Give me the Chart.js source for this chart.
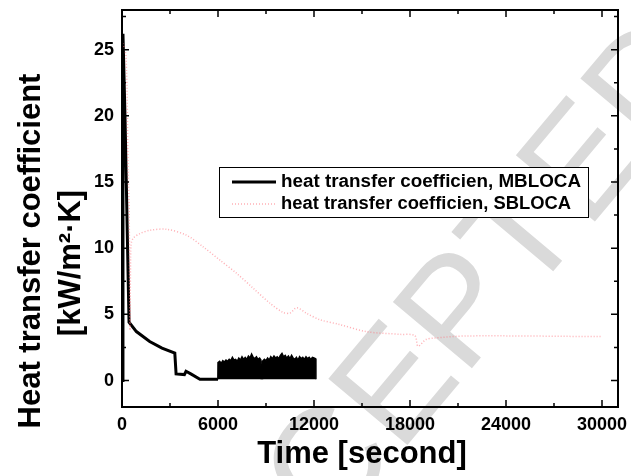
<!DOCTYPE html>
<html>
<head>
<meta charset="utf-8">
<script src="https://cdn.jsdelivr.net/npm/chart.js@4.4.0/dist/chart.umd.min.js"></script>
<style>
  html, body { margin: 0; padding: 0; background: #fff; }
  #wrap { width: 631px; height: 476px; }
</style>
</head>
<body>
<div id="wrap"><canvas id="htc" width="631" height="476"></canvas></div>
<script>
// tick labels
const xTicks = [0, 6000, 12000, 18000, 24000, 30000];
const xMinor = [3000, 9000, 15000, 21000, 27000];
const yTicks = [0, 5, 10, 15, 20, 25];
const yMinor = [2.5, 7.5, 12.5, 17.5, 22.5, 27.5];

// MBLOCA (solid black)
const mbTime = [0, 60, 190, 440, 900, 1730, 2500, 3300, 3380, 3900, 4000, 4300, 4870, 6000];
const mbValue = [0, 26.2, 19.8, 4.4, 3.7, 2.95, 2.45, 2.08, 0.5, 0.45, 0.7, 0.5, 0.1, 0.1];

// MBLOCA oscillating part 6000-12000 s: upper envelope, filled down to the baseline
const bandTime = [5990, 6000, 6100, 6200, 6300, 6400, 6500, 6600, 6700, 6800, 6900, 7000, 7100, 7200,
  7300, 7400, 7500, 7600, 7700, 7800, 7900, 8000, 8100, 8200, 8300, 8400, 8500, 8600, 8680, 8700,
  8760, 8780, 8900, 9000, 9100, 9200, 9300, 9400, 9500, 9600, 9700, 9800, 9900, 10000, 10100, 10200,
  10300, 10400, 10500, 10600, 10700, 10800, 10900, 11000, 11100, 11200, 11300, 11400, 11500, 11600,
  11700, 11800, 11900, 12000, 12100, 12120];
const bandValue = [0.1, 1.35, 1.45, 1.3, 1.5, 1.4, 1.55, 1.45, 1.6, 1.5, 1.75, 1.55, 1.6, 1.45,
  1.7, 1.55, 1.8, 1.6, 1.75, 1.6, 1.85, 1.7, 2.0, 1.75, 1.65, 1.8, 1.6, 1.7, 1.55, 0.15,
  0.15, 1.45, 1.6, 1.5, 1.7, 1.55, 1.8, 1.65, 1.85, 1.7, 1.8, 1.65, 1.9, 2.05, 1.8, 1.9,
  1.7, 1.85, 1.65, 1.9, 1.7, 1.6, 1.75, 1.55, 1.8, 1.65, 1.75, 1.6, 1.8, 1.65,
  1.75, 1.6, 1.75, 1.7, 1.65, 0.1];
const bandBase = 0.1;

// SBLOCA (pink dotted)
const sbTime = [0, 250, 380, 450, 500, 560, 689, 1108, 1734, 2780, 4032, 5072, 6118, 7163, 8203,
  9249, 10081, 10500, 10920, 11547, 12380, 13525, 15303, 17388, 18300, 18500, 19000, 19450, 21565, 29920];
const sbValue = [25.7, 24.5, 16, 12.5, 3.8, 10.2, 10.73, 11.1, 11.35, 11.43, 10.98, 10.1, 9.1, 8.1, 6.97,
  5.84, 5.14, 5.1, 5.5, 5.07, 4.59, 4.26, 3.69, 3.49, 3.4, 2.6, 3.1, 3.2, 3.37, 3.32];

const pts = (xs, ys) => xs.map((x, i) => ({ x: x, y: ys[i] }));

const FONT = "'Liberation Sans', Arial, sans-serif";
const PINK = "rgba(255,110,120,0.55)";

// text squeezed/stretched to a given width
function fitText(ctx, text, x, y, width, align) {
  const w = ctx.measureText(text).width;
  ctx.save();
  ctx.translate(x, y);
  ctx.scale(width / w, 1);
  ctx.textAlign = align || "left";
  ctx.fillText(text, 0, 0);
  ctx.restore();
}

// faint "ACCEPTED" watermark behind the plot
const watermarkPlugin = {
  id: "watermark",
  beforeDraw(chart) {
    const { ctx } = chart;
    ctx.save();
    ctx.translate(196, 697);
    ctx.rotate(-50 * Math.PI / 180);
    ctx.font = "150px " + FONT;
    ctx.fillStyle = "#dadada";
    ctx.textBaseline = "alphabetic";
    ctx.fillText("ACCEPTED", 0, 0);
    ctx.restore();
  }
};

// frame, inward ticks on all four sides, tick labels
const framePlugin = {
  id: "frame",
  afterDatasetsDraw(chart) {
    const { ctx, chartArea: a, scales } = chart;
    const x = scales.x, y = scales.y;
    ctx.save();
    ctx.strokeStyle = "#000";
    ctx.lineWidth = 1.5;
    const tickX = (vals, len) => {
      vals.forEach(v => {
        const px = x.getPixelForValue(v);
        ctx.beginPath();
        ctx.moveTo(px, a.bottom); ctx.lineTo(px, a.bottom - len);
        ctx.moveTo(px, a.top); ctx.lineTo(px, a.top + len);
        ctx.stroke();
      });
    };
    const tickY = (vals, len) => {
      vals.forEach(v => {
        const py = y.getPixelForValue(v);
        ctx.beginPath();
        ctx.moveTo(a.left, py); ctx.lineTo(a.left + len, py);
        ctx.moveTo(a.right, py); ctx.lineTo(a.right - len, py);
        ctx.stroke();
      });
    };
    tickX(xTicks, 7); tickX(xMinor, 4);
    tickY(yTicks, 7); tickY(yMinor, 4);
    ctx.lineWidth = 2;
    ctx.strokeRect(a.left, a.top, a.right - a.left, a.bottom - a.top);

    ctx.fillStyle = "#000";
    ctx.font = "bold 18px " + FONT;
    ctx.textBaseline = "middle";
    ctx.textAlign = "center";
    xTicks.forEach(v => ctx.fillText(String(v), x.getPixelForValue(v), 425));
    ctx.textAlign = "right";
    yTicks.forEach(v => ctx.fillText(String(v), 114, y.getPixelForValue(v)));
    ctx.restore();
  }
};

// legend box inside the plot
const legendPlugin = {
  id: "boxLegend",
  afterDraw(chart) {
    const { ctx } = chart;
    ctx.save();
    ctx.fillStyle = "#fff";
    ctx.fillRect(219, 167, 369, 50);
    ctx.strokeStyle = "#000";
    ctx.lineWidth = 1;
    ctx.strokeRect(219.5, 167.5, 369, 50);
    ctx.lineWidth = 3;
    ctx.beginPath(); ctx.moveTo(232, 182); ctx.lineTo(276, 182); ctx.stroke();
    ctx.strokeStyle = PINK;
    ctx.lineWidth = 1.5;
    ctx.setLineDash([1, 2]);
    ctx.beginPath(); ctx.moveTo(232, 204); ctx.lineTo(276, 204); ctx.stroke();
    ctx.setLineDash([]);
    ctx.fillStyle = "#000";
    ctx.font = "bold 17.5px " + FONT;
    ctx.textBaseline = "middle";
    fitText(ctx, "heat transfer coefficien, MBLOCA", 281, 182, 300);
    fitText(ctx, "heat transfer coefficien, SBLOCA", 281, 204, 290);
    ctx.restore();
  }
};

// axis titles
const titlePlugin = {
  id: "titles",
  afterDraw(chart) {
    const { ctx } = chart;
    ctx.save();
    ctx.fillStyle = "#000";
    ctx.textAlign = "center";
    ctx.textBaseline = "alphabetic";
    ctx.font = "bold 31px " + FONT;
    ctx.fillText("Time [second]", 362, 463);
    ctx.translate(40, 251);
    ctx.rotate(-Math.PI / 2);
    ctx.fillText("Heat transfer coefficient", 0, 0);
    ctx.fillText("[kW/m\u00B2\u00B7K]", -12, 40);
    ctx.restore();
  }
};

new Chart(document.getElementById("htc"), {
  type: "line",
  data: {
    datasets: [
      {
        label: "heat transfer coefficien, SBLOCA",
        data: pts(sbTime, sbValue),
        borderColor: PINK,
        borderWidth: 1.5,
        borderDash: [1, 2],
        pointRadius: 0,
        tension: 0.3,
        fill: false
      },
      {
        label: "heat transfer coefficien, MBLOCA",
        data: pts(mbTime, mbValue),
        borderColor: "#000",
        borderWidth: 3,
        pointRadius: 0,
        tension: 0,
        fill: false
      },
      {
        label: "MBLOCA oscillation",
        data: pts(bandTime, bandValue),
        borderColor: "#000",
        backgroundColor: "#000",
        borderWidth: 1.5,
        pointRadius: 0,
        tension: 0,
        fill: { value: bandBase }
      }
    ]
  },
  options: {
    responsive: false,
    animation: false,
    layout: { padding: { top: 10, right: 13, left: 0, bottom: 0 } },
    plugins: { legend: { display: false }, tooltip: { enabled: false } },
    scales: {
      x: {
        type: "linear",
        min: 0,
        max: 31000,
        afterBuildTicks: s => { s.ticks = xTicks.map(v => ({ value: v })); },
        afterFit: s => { s.height = 69; },
        grid: { display: false, drawTicks: false },
        border: { display: false },
        ticks: { display: false }
      },
      y: {
        type: "linear",
        min: -2,
        max: 28,
        afterBuildTicks: s => { s.ticks = yTicks.map(v => ({ value: v })); },
        afterFit: s => { s.width = 122; },
        grid: { display: false, drawTicks: false },
        border: { display: false },
        ticks: { display: false }
      }
    }
  },
  plugins: [watermarkPlugin, framePlugin, legendPlugin, titlePlugin]
});
</script>
</body>
</html>
